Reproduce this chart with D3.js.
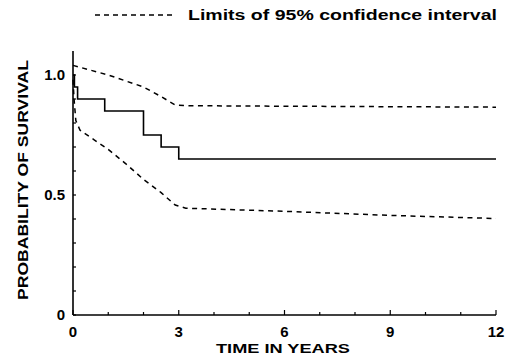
<!DOCTYPE html>
<html>
<head>
<meta charset="utf-8">
<script src="https://cdn.jsdelivr.net/npm/d3@7"></script>
<style>
  body { margin: 0; background: #fff; }
  text { font-family: "Liberation Sans", Arial, sans-serif; font-weight: bold; fill: #000; }
</style>
</head>
<body>
<div id="chart"></div>
<script>
// survival estimate (step function): [time, probability]
let survival = [
  [0, 1.0], [0.04, 0.95], [0.13, 0.90], [0.9, 0.85],
  [2.0, 0.75], [2.5, 0.70], [3.0, 0.65], [12, 0.65]
];
// 95% confidence limits
let upperLimit = [
  [0, 1.04], [0.5, 1.02], [1.0, 1.0], [1.5, 0.975], [2.0, 0.95],
  [2.5, 0.91], [2.9, 0.875], [3.2, 0.872], [6, 0.87], [9, 0.868], [12, 0.866]
];
let lowerLimit = [
  [0, 0.98], [0.03, 0.9], [0.08, 0.81], [0.2, 0.77], [0.6, 0.73],
  [1.0, 0.69], [1.5, 0.63], [2.0, 0.565], [2.5, 0.51], [2.9, 0.458],
  [3.2, 0.445], [6, 0.432], [9, 0.415], [12, 0.402]
];
let xMajorTicks = [0, 3, 6, 9, 12];
let xMinorTicks = d3.range(0, 13, 1);
let yMajorTicks = [0, 0.5, 1.0];
let yMinorTicks = d3.range(0, 1.01, 0.1);
let legendLabel = "Limits of 95% confidence interval";
let xTitle = "TIME IN YEARS";
let yTitle = "PROBABILITY OF SURVIVAL";

let width = 512, height = 357;
let margin = { top: 51, right: 16, bottom: 42, left: 73 };

let svg = d3.select("#chart").append("svg")
  .attr("width", width)
  .attr("height", height);

let x = d3.scaleLinear().domain([0, 12]).range([margin.left, 496]);
let y = d3.scaleLinear().domain([0, 1]).range([315, 75]);

// axes lines
svg.append("line")
  .attr("x1", x(0)).attr("x2", x(0))
  .attr("y1", y(0)).attr("y2", margin.top)
  .attr("stroke", "#000").attr("stroke-width", 1.6);
svg.append("line")
  .attr("x1", x(0)).attr("x2", x(12))
  .attr("y1", y(0)).attr("y2", y(0))
  .attr("stroke", "#000").attr("stroke-width", 1.6);

// ticks pointing inward
svg.selectAll("line.xtick")
  .data(xMinorTicks)
  .enter().append("line")
  .attr("class", "xtick")
  .attr("x1", d => x(d)).attr("x2", d => x(d))
  .attr("y1", y(0)).attr("y2", d => y(0) - (xMajorTicks.includes(d) ? 5 : 3))
  .attr("stroke", "#000").attr("stroke-width", 1.2);

svg.selectAll("line.ytick")
  .data(yMinorTicks)
  .enter().append("line")
  .attr("class", "ytick")
  .attr("x1", x(0)).attr("x2", d => x(0) + 3)
  .attr("y1", d => y(d)).attr("y2", d => y(d))
  .attr("stroke", "#000").attr("stroke-width", 1.2);

// tick labels
svg.selectAll("text.xlabel")
  .data(xMajorTicks)
  .enter().append("text")
  .attr("class", "xlabel")
  .attr("x", d => x(d))
  .attr("y", 337)
  .attr("text-anchor", "middle")
  .style("font-size", "15px")
  .text(d => d);

svg.selectAll("text.ylabel")
  .data(yMajorTicks)
  .enter().append("text")
  .attr("class", "ylabel")
  .attr("x", 65)
  .attr("y", d => y(d) + 5)
  .attr("text-anchor", "end")
  .style("font-size", "15px")
  .text(d => d === 0 ? "0" : d3.format(".1f")(d));

// axis titles
svg.append("text")
  .attr("x", 283)
  .attr("y", 353)
  .attr("text-anchor", "middle")
  .attr("textLength", 134)
  .attr("lengthAdjust", "spacingAndGlyphs")
  .style("font-size", "13px")
  .text(xTitle);

svg.append("text")
  .attr("transform", "translate(28,180) rotate(-90)")
  .attr("text-anchor", "middle")
  .attr("textLength", 240)
  .attr("lengthAdjust", "spacingAndGlyphs")
  .style("font-size", "14px")
  .text(yTitle);

// survival curve
let stepLine = d3.line()
  .x(d => x(d[0]))
  .y(d => y(d[1]))
  .curve(d3.curveStepAfter);

svg.append("path")
  .datum(survival)
  .attr("d", stepLine)
  .attr("fill", "none")
  .attr("stroke", "#000")
  .attr("stroke-width", 1.6);

// confidence limits
let limitLine = d3.line()
  .x(d => x(d[0]))
  .y(d => y(d[1]));

[upperLimit, lowerLimit].forEach(function(series) {
  svg.append("path")
    .datum(series)
    .attr("d", limitLine)
    .attr("fill", "none")
    .attr("stroke", "#000")
    .attr("stroke-width", 1.5)
    .attr("stroke-dasharray", "5,4.5");
});

// legend
svg.append("line")
  .attr("x1", 95).attr("x2", 172)
  .attr("y1", 15).attr("y2", 15)
  .attr("stroke", "#000")
  .attr("stroke-width", 1.3)
  .attr("stroke-dasharray", "5,4");

svg.append("text")
  .attr("x", 188)
  .attr("y", 20)
  .attr("textLength", 309)
  .attr("lengthAdjust", "spacingAndGlyphs")
  .style("font-size", "14px")
  .text(legendLabel);
</script>
</body>
</html>
